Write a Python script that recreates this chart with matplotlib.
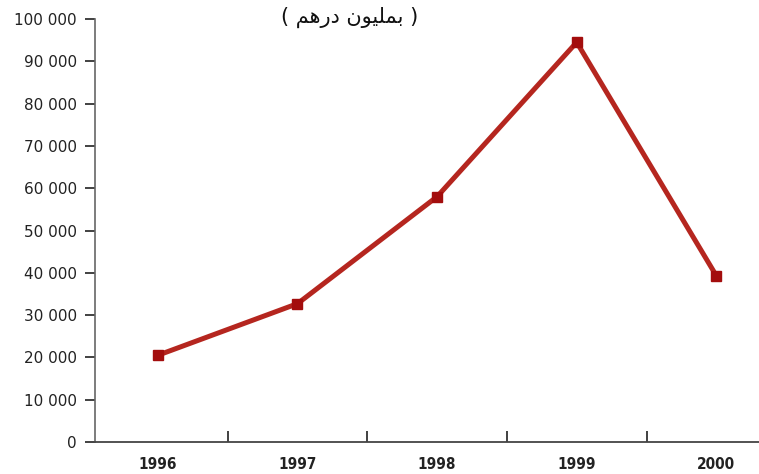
import matplotlib.pyplot as plt
from matplotlib.ticker import FuncFormatter

years = ["1996", "1997", "1998", "1999", "2000"]
values = [20500, 32700, 58000, 94500, 39300]
y_ticks = [0, 10000, 20000, 30000, 40000, 50000, 60000, 70000, 80000, 90000, 100000]

# "( بمليون درهم )" written with presentation forms in visual order
title = "( \uFEE2\uFEEB\uFEAD\uFEA9 \uFEE5\uFEEE\uFEF4\uFEE0\uFEE4\uFE91 )"

fig = plt.figure(figsize=(7.59, 4.74), dpi=100)
W, H = 759, 474
ax = fig.add_axes([95 / W, (H - 442) / H, (W - 95) / W + 0.01, (442 - 19) / H])

x = list(range(len(years)))
ax.plot(x, values, color="#b5261f", lw=3.6, solid_capstyle="butt", zorder=3)
ax.plot(x, values, ls="none", marker="s", ms=7, color="#a30d0d", zorder=4)

ax.set_ylim(0, 100000)
ax.set_xlim(-0.45, 4.36)
ax.set_yticks(y_ticks)
ax.yaxis.set_major_formatter(FuncFormatter(lambda v, p: f"{int(v):,}".replace(",", " ")))
ax.tick_params(axis="y", direction="out", length=7, width=1.3, color="#333333",
               labelsize=11, labelcolor="#222222", pad=6)

ax.set_xticks([0.5, 1.5, 2.5, 3.5])
ax.set_xticklabels([])
ax.set_xticks(x, minor=True)
ax.set_xticklabels(years, minor=True, fontsize=11, fontweight="bold",
                   fontstretch="condensed", color="#222222")
ax.tick_params(axis="x", which="major", direction="in", length=8, width=1.3, color="#333333")
ax.tick_params(axis="x", which="minor", length=0, pad=11)

for s in ["top", "right"]:
    ax.spines[s].set_visible(False)
ax.spines["left"].set_color("#666666")
ax.spines["left"].set_linewidth(1.2)
ax.spines["bottom"].set_color("#444444")
ax.spines["bottom"].set_linewidth(1.3)

fig.text(350 / W, 1 - 17 / H, title, ha="center", va="center", fontsize=15,
         family="DejaVu Sans", color="#111111")

fig.savefig("out.png", dpi=100)
